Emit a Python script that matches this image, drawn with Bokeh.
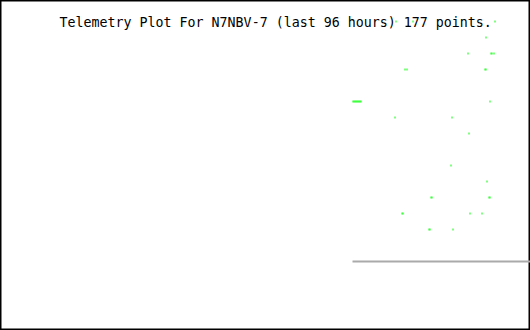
from bokeh.plotting import figure
from bokeh.models import Range1d, Label, ColumnDataSource
from bokeh.embed import file_html
from bokeh.resources import INLINE
import numpy as np

# Telemetry samples: horizontal sample position and channel row (0 = top row)
sample_x = [395, 412, 494,
            485,
            467, 490, 491, 493,
            404, 406, 484, 485,
            352, 353, 354, 355, 356, 357, 358, 359, 360, 489,
            394, 451,
            468,
            450,
            486,
            430, 431, 488, 489,
            401, 402, 469, 481,
            428, 429, 452]
channel = [0, 0, 0,
           1,
           2, 2, 2, 2,
           3, 3, 3, 3,
           5, 5, 5, 5, 5, 5, 5, 5, 5, 5,
           6, 6,
           7,
           9,
           10,
           11, 11, 11, 11,
           12, 12, 12, 12,
           13, 13, 13]
baseline_row = 15

title_text = "Telemetry Plot For N7NBV-7 (last 96 hours) 177 points."

W, H = 530, 330
ROW = 16.0  # pixels per channel row
p = figure(width=W, height=H, output_backend="svg", toolbar_location=None,
           x_axis_location=None, y_axis_location=None, min_border=0,
           x_range=Range1d(-0.5, W - 0.5),
           y_range=Range1d((H - 21) / ROW, -21 / ROW))
p.grid.visible = False
p.background_fill_color = "white"
p.border_fill_color = "white"
p.outline_line_color = "black"
p.outline_line_width = 2

xs = np.array(sample_x, dtype=float)
ys = np.array(channel, dtype=float)
src = ColumnDataSource(dict(x=xs, y0=ys - 1 / ROW, y1=ys + 1 / ROW))
p.segment(x0="x", x1="x", y0="y0", y1="y1", source=src,
          line_color="#00ff00", line_width=1, line_cap="butt")

x0 = xs.min() - 0.5
p.segment(x0=[x0], y0=[baseline_row], x1=[W], y1=[baseline_row],
          line_color="#aaaaaa", line_width=2)

p.add_layout(Label(x=59, y=H - 22, x_units="screen", y_units="screen",
                   text=title_text, text_font="DejaVu Sans Mono",
                   text_font_size="13.3px", text_color="black",
                   text_baseline="alphabetic"))

open("out.html", "w").write(file_html(p, INLINE))
